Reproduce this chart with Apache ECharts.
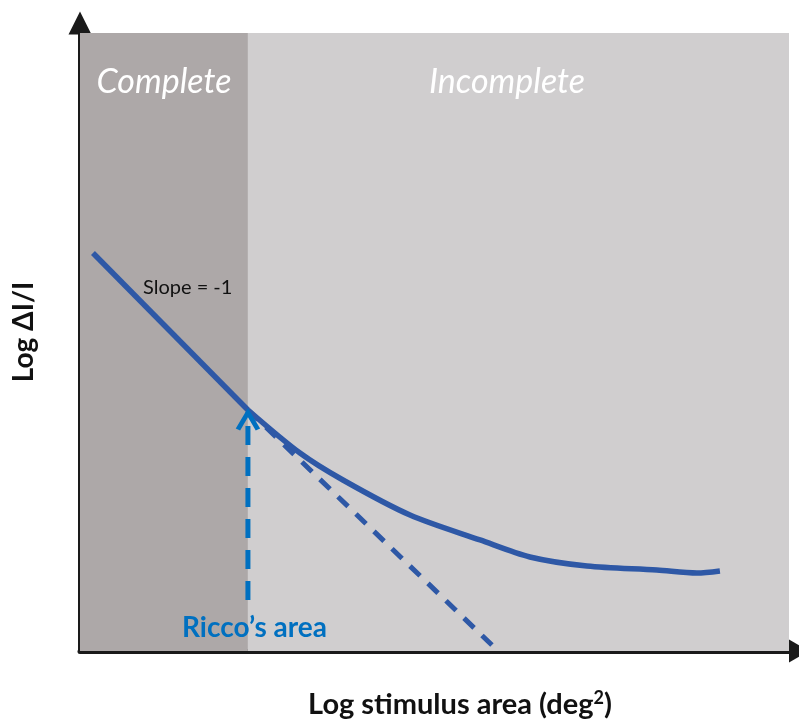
<!DOCTYPE html>
<html>
<head>
<meta charset="utf-8">
<script src="https://cdn.jsdelivr.net/npm/echarts@6/dist/echarts.min.js"></script>
<style>
  html, body { margin: 0; padding: 0; background: #ffffff; }
  #chart { width: 799px; height: 722px; }
</style>
</head>
<body>
<div id="chart"></div>
<script>
// Axis extents (log units)
const xRange = [0, 7];
const yRange = [0, 6];

// Boundary between complete and incomplete summation (Ricco's area)
const riccoX = 1.658;

// Region labels
const regionNames = ['Complete', 'Incomplete'];

// Threshold curve: complete summation (slope -1) part
const slopeSegment = [[0.128, 3.864], [1.658, 2.340]];
// Threshold curve: incomplete summation part
const incompleteCurve = [
  [1.658, 2.340], [2.172, 1.922], [2.596, 1.660], [3.258, 1.320],
  [3.949, 1.078], [4.442, 0.913], [5.005, 0.825], [5.696, 0.786],
  [6.091, 0.757], [6.318, 0.777]
];
// Extrapolation of the slope -1 line
const extrapolation = [[1.658, 2.340], [4.067, 0.058]];
// Vertical marker pointing at Ricco's area
const riccoMarker = [[1.658, 0.495], [1.658, 2.32]];

const FONT = 'Lato, "Open Sans", sans-serif';
const curveColor = '#2E58A6';
const markerColor = '#0070C0';

const chart = echarts.init(document.getElementById('chart'), null, { renderer: 'canvas' });

chart.setOption({
  animation: false,
  backgroundColor: '#ffffff',
  grid: { left: 80, right: 10, top: 33, bottom: 71, outerBoundsMode: 'none', containLabel: false },
  xAxis: {
    type: 'value', min: xRange[0], max: xRange[1],
    axisLine: { show: true, symbol: ['none', 'triangle'], symbolSize: [23, 20], symbolOffset: [0, 10],
      lineStyle: { color: '#1a1a1a', width: 5 } },
    axisTick: { show: false }, axisLabel: { show: false }, splitLine: { show: false }
  },
  yAxis: {
    type: 'value', min: yRange[0], max: yRange[1],
    axisLine: { show: true, symbol: ['none', 'triangle'], symbolSize: [23, 23], symbolOffset: [0, 10],
      lineStyle: { color: '#1a1a1a', width: 5 } },
    axisTick: { show: false }, axisLabel: { show: false }, splitLine: { show: false }
  },
  graphic: [
    {
      type: 'text', x: 460, y: 705, z: 10,
      style: {
        text: '{a|Log stimulus area (deg}{s|2}{a|)}', align: 'center', verticalAlign: 'middle',
        rich: {
          a: { fontFamily: FONT, fontWeight: 'bold', fontSize: 29, fill: '#111' },
          s: { fontFamily: FONT, fontWeight: 'bold', fontSize: 18, fill: '#111', padding: [0, 0, 14, 0] }
        }
      }
    },
    {
      type: 'text', x: 24, y: 332, rotation: Math.PI / 2, z: 10,
      style: { text: 'Log ΔI/I', align: 'center', verticalAlign: 'middle',
        fontFamily: FONT, fontWeight: 'bold', fontSize: 28, fill: '#111' }
    },
    {
      type: 'text', x: 164, y: 82, z: 10,
      style: { text: regionNames[0], align: 'center', verticalAlign: 'middle',
        fontFamily: FONT, fontStyle: 'italic', fontSize: 34, fill: '#ffffff' }
    },
    {
      type: 'text', x: 507, y: 82, z: 10,
      style: { text: regionNames[1], align: 'center', verticalAlign: 'middle',
        fontFamily: FONT, fontStyle: 'italic', fontSize: 34, fill: '#ffffff' }
    },
    {
      type: 'text', x: 182, y: 628, z: 10,
      style: { text: 'Ricco’s area', verticalAlign: 'middle',
        fontFamily: FONT, fontWeight: 'bold', fontSize: 28, fill: markerColor }
    },
    {
      type: 'text', x: 143, y: 288, z: 10,
      style: { text: 'Slope = -1', verticalAlign: 'middle', fontFamily: FONT, fontSize: 20, fill: '#111' }
    }
  ],
  series: [
    {
      type: 'line', data: slopeSegment, symbol: 'none', z: 3,
      lineStyle: { color: curveColor, width: 5.5 },
      markArea: {
        silent: true,
        data: [
          [{ xAxis: xRange[0], itemStyle: { color: '#ADA8A8' } }, { xAxis: riccoX }],
          [{ xAxis: riccoX, itemStyle: { color: '#D0CECF' } }, { xAxis: xRange[1] }]
        ]
      }
    },
    {
      type: 'line', data: incompleteCurve, symbol: 'none', smooth: 0.3, z: 3,
      lineStyle: { color: curveColor, width: 5.5 }
    },
    {
      type: 'line', data: extrapolation, symbol: 'none', z: 2,
      lineStyle: { color: curveColor, width: 5, type: [14, 11] }
    },
    {
      type: 'line', z: 4,
      data: [
        { value: riccoMarker[0], symbol: 'none' },
        { value: riccoMarker[1], symbol: 'path://M0,16L10,0L20,16', symbolSize: [20, 17], symbolOffset: [0, 9],
          itemStyle: { color: 'rgba(0,0,0,0)', borderColor: markerColor, borderWidth: 4.5 } }
      ],
      showSymbol: true,
      lineStyle: { color: markerColor, width: 5, type: [19, 12] }
    }
  ]
});
</script>
</body>
</html>
